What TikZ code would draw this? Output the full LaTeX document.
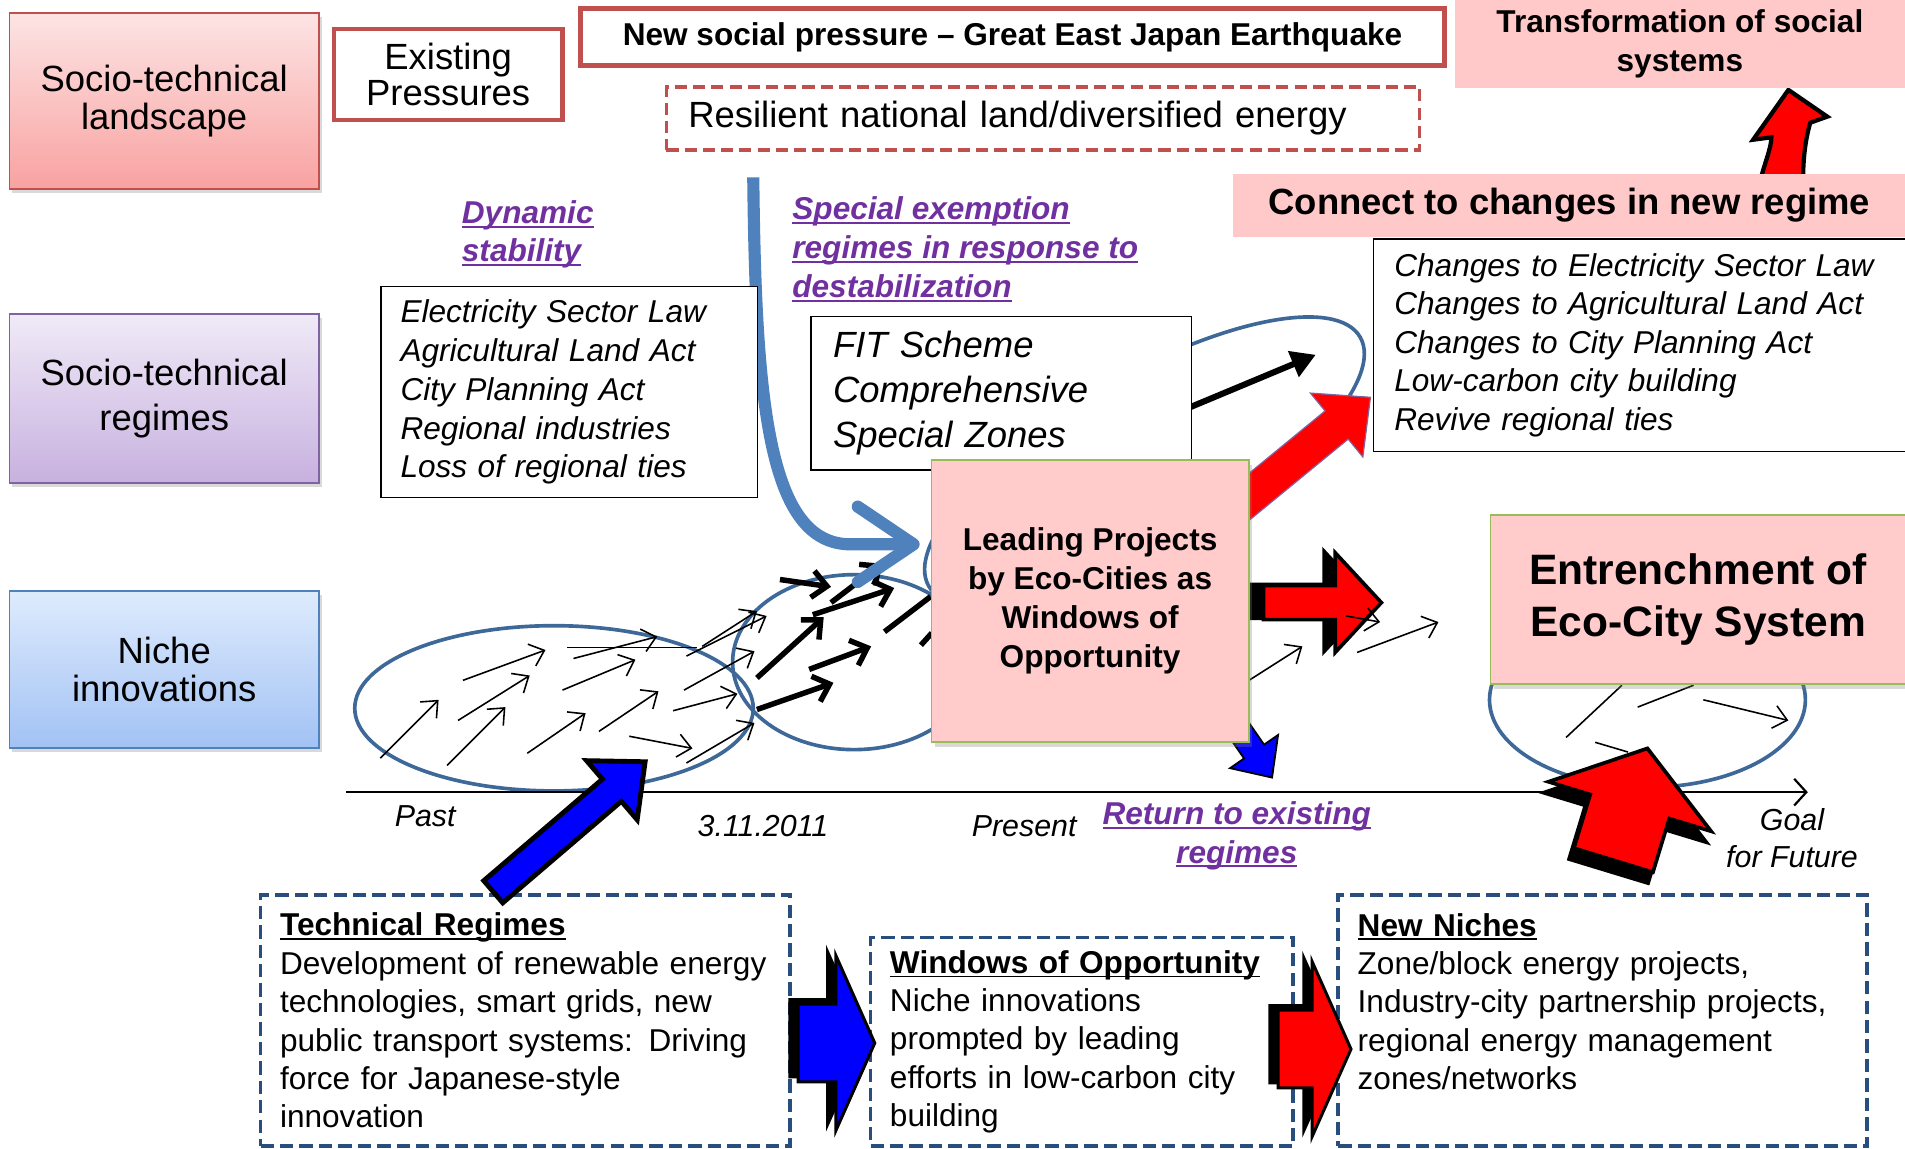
\documentclass[tikz,border=0pt]{standalone}
\usepackage{fontspec}
\setmainfont{Liberation Sans}
\usetikzlibrary{calc, shadows, arrows.meta}

\definecolor{borderred}{HTML}{C0504D}
\definecolor{pinkfill}{HTML}{FFC9C9}
\definecolor{ecopink}{HTML}{FFCBCB}
\definecolor{notepurple}{HTML}{7030A0}
\definecolor{ovalblue}{HTML}{3D6898}
\definecolor{bendblue}{HTML}{4F81BD}
\definecolor{dashblue}{HTML}{284E80}
\definecolor{leafgreen}{HTML}{9BBB59}
\definecolor{lsTop}{HTML}{FDE4E4}
\definecolor{lsBot}{HTML}{F8A2A1}
\definecolor{rgTop}{HTML}{F0EAF7}
\definecolor{rgBot}{HTML}{C7B1DF}
\definecolor{rgBorder}{HTML}{8064A2}
\definecolor{nhTop}{HTML}{DEEBFD}
\definecolor{nhBot}{HTML}{A2C2F4}
\definecolor{nhBorder}{HTML}{4F81BD}

\newsavebox\undlbox
\newcommand{\undl}[1]{\sbox\undlbox{#1}\rlap{\rule[-3.5pt]{\wd\undlbox}{1.6pt}}\usebox\undlbox}

% block arrow: style, tail, tip, half body, half head, head length
\newcommand{\fatarrow}[6]{
	\coordinate (fahead) at ($(#3)!#6pt!(#2)$);
	\path[#1] ($(#2)!#4pt!90:(#3)$) -- ($(fahead)!#4pt!-90:(#2)$)
		-- ($(fahead)!#5pt!-90:(#2)$) -- (#3) -- ($(fahead)!#5pt!90:(#2)$)
		-- ($(fahead)!#4pt!90:(#2)$) -- ($(#2)!#4pt!-90:(#3)$) -- cycle;
}

\begin{document}
\begin{tikzpicture}[x=1pt, y=-1pt]
		\tikzstyle{levelbox}=[draw, line width=1.3pt, minimum width=255pt, align=center, anchor=north west, font=\fontsize{30}{31}\selectfont, drop shadow={shadow xshift=2pt, shadow yshift=-3pt, opacity=0.3}]
		\tikzstyle{pressure}=[draw=borderred, line width=3.8pt, fill=white, anchor=north west, align=center]
		\tikzstyle{pinkbanner}=[fill=pinkfill, anchor=north west, align=center]
		\tikzstyle{listbox}=[draw, line width=1.3pt, fill=white, anchor=north west, align=left, font=\itshape\fontsize{26}{31.7}\selectfont]
		\tikzstyle{purplenote}=[text=notepurple, inner sep=0pt, align=left, font=\bfseries\itshape\fontsize{26}{31.5}\selectfont]
		\tikzstyle{eco}=[draw=leafgreen, line width=1.5pt, fill=ecopink, anchor=north west, align=center, drop shadow={shadow xshift=3pt, shadow yshift=-4pt, opacity=0.3}]
		\tikzstyle{dashbox}=[draw=dashblue, line width=3pt, dash pattern=on 11pt off 5pt, fill=white, anchor=north west, align=left, inner xsep=16pt, font=\fontsize{26}{31.6}\selectfont]
		\tikzstyle{timelabel}=[align=center, font=\itshape\fontsize{25}{31}\selectfont]
		\tikzstyle{nicheoval}=[draw=ovalblue, line width=3pt]
		\tikzstyle{thindrift}=[line width=1.3pt, -{Straight Barb[length=11pt, width=19pt]}]
		\tikzstyle{thickpush}=[line width=4.5pt, -{Straight Barb[length=12pt, width=22pt]}]

		\useasboundingbox (0,0) rectangle (1568,945);

		% ovals
		\draw[nicheoval] (456,583) ellipse [x radius=164, y radius=68];
		\draw[nicheoval] (703,545) ellipse [x radius=100, y radius=72];
		\draw[nicheoval] (942,380) ellipse [x radius=205, y radius=70, rotate=30];
		\draw[nicheoval] (1356,576) ellipse [x radius=130, y radius=72];

		% time line
		\coordinate (tpast) at (285,652);
		\coordinate (tgoal) at (1488,652);
		\draw[line width=1.8pt, -{Straight Barb[length=10pt, width=22pt]}] (tpast) -- (tgoal);

		% small arrows
		\foreach \x/\y/\u/\v in {313/624/361/576, 368/630/416/582, 377/593/436/556, 381/560/449/535, 434/620/482/587, 463/568/523/543, 472/542/541/524, 493/602/542/569, 518/606/570/616, 554/585/607/571, 563/568/621/536, 565/540/631/507, 578/532/623/503, 565/628/621/595, 1028/560/1072/532, 1117/537/1184/512, 1402/576/1472/593}
			\draw[thindrift] (\x,\y) -- (\u,\v);
		\foreach \x/\y/\u/\v in {467/533/574/533, 1289/607/1335/564, 1348/582/1394/564, 1313/611/1340/619}
			\draw[line width=1.3pt] (\x,\y) -- (\u,\v);
		\foreach \x/\y/\u/\v in {623/584/686/562, 666/551/717/532, 623/558/678/508, 669/506/736/484, 642/477/684/483, 684/496/726/464}
			\draw[thickpush] (\x,\y) -- (\u,\v);
		\draw[line width=4.5pt] (728,520) -- (766,491);
		\draw[line width=4.5pt] (758,531) -- (767,521);

		% pressure bending down into the niche
		\coordinate (bendtop) at (620,146);
		\coordinate (bendtip) at (757,448);
		\draw[bendblue, line width=10pt, -{Straight Barb[length=46pt, width=62pt, round]}] (bendtop) .. controls (622,330) and (632,448) .. (700,448) -- (bendtip);

		% arrows out of the leading projects
		\coordinate (fitout) at (980,335);
		\coordinate (fitaim) at (1083,292);
		\draw[line width=5pt, -{Triangle[length=20pt, width=22pt]}] (fitout) -- (fitaim);

		\coordinate (rdtail) at (1000,432);
		\coordinate (rdtip) at (1128,327);
		\fatarrow{fill=red, draw=rgBorder, line width=1pt}{rdtail}{rdtip}{15}{34}{36}

		\coordinate (bdtail) at (1000,572);
		\coordinate (bdtip) at (1047,640);
		\fatarrow{fill=blue, draw=black, line width=1.5pt}{bdtail}{bdtip}{10}{24}{26}

		\coordinate (rrshade) at (1010,496);
		\coordinate (rrtail) at (1040,496);
		\coordinate (rrtip) at (1137,496);
		\begin{scope}[transform canvas={xshift=-9pt, yshift=1pt}]
			\fatarrow{fill=black, draw=black, line width=3pt}{rrshade}{rrtip}{14}{41}{38}
		\end{scope}
		\fatarrow{fill=red, draw=black, line width=3pt}{rrtail}{rrtip}{14}{41}{38}
		\draw[thindrift] (1108,507) -- (1136,512);

		% up to the transformation
		\filldraw[fill=red, draw=black, line width=3.5pt] (1448,152) .. controls (1452,135) and (1458,122) .. (1458,113) -- (1443,115) -- (1472,74) -- (1504,96) -- (1490,101) .. controls (1486,115) and (1484,130) .. (1484,152) -- cycle;

		% levels
		\node[levelbox, top color=lsTop, bottom color=lsBot, draw=borderred, minimum height=145pt] (landscape) at (7,10) {Socio-technical\\landscape};
		\node[levelbox, top color=rgTop, bottom color=rgBot, draw=rgBorder, minimum height=139pt, font=\fontsize{30}{37}\selectfont] (regimes) at (7,258) {Socio-technical\\regimes};
		\node[levelbox, top color=nhTop, bottom color=nhBot, draw=nhBorder, minimum height=129pt] (niche) at (7,486) {Niche\\innovations};

		% landscape pressures
		\node[pressure, minimum width=188pt, minimum height=75pt, font=\fontsize{30}{30}\selectfont] (existing) at (273,22) {Existing\\Pressures};
		\node[pressure, minimum width=711pt, minimum height=47pt, font=\bfseries\fontsize{26}{30}\selectfont] (quake) at (476,5) {New social pressure – Great East Japan Earthquake};
		\node[pressure, line width=3pt, dash pattern=on 10pt off 5pt, minimum height=52pt, text width=584pt, inner xsep=18pt, align=left, font=\fontsize{30}{30}\selectfont] (resilient) at (547,70) {Resilient national land/diversified energy};
		\node[pinkbanner, minimum width=371pt, minimum height=72pt, font=\bfseries\fontsize{26}{32}\selectfont] (transf) at (1197,0) {Transformation of social\\systems};
		\node[pinkbanner, minimum width=553pt, minimum height=52pt, font=\bfseries\fontsize{30}{32}\selectfont] (connect) at (1015,143) {Connect to changes in new regime};

		% regimes
		\node[listbox, minimum height=175pt, text width=404pt, inner xsep=17pt] (changes) at (1130,196) {Changes to Electricity Sector Law\\Changes to Agricultural Land Act\\Changes to City Planning Act\\Low-carbon city building\\Revive regional ties};
		\node[purplenote, anchor=west] (dynamic) at (380,193) {\undl{Dynamic}\\\undl{stability}};
		\node[listbox, minimum height=174pt, text width=278pt, inner xsep=16pt, font=\itshape\fontsize{26}{32}\selectfont] (oldregime) at (313,235) {Electricity Sector Law\\Agricultural Land Act\\City Planning Act\\Regional industries\\Loss of regional ties};
		\node[purplenote, anchor=west, font=\bfseries\itshape\fontsize{26}{32}\selectfont] (exemption) at (652,205) {\undl{Special exemption}\\\undl{regimes in response to}\\\undl{destabilization}};
		\node[listbox, minimum height=126pt, text width=277pt, inner xsep=18pt, font=\itshape\fontsize{30}{37}\selectfont] (fit) at (667,260) {FIT Scheme\\Comprehensive\\Special Zones};

		% eco-city boxes
		\node[eco, minimum width=261pt, minimum height=232pt, font=\bfseries\fontsize{26}{32}\selectfont] (leading) at (766,378) {Leading Projects\\by Eco-Cities as\\Windows of\\Opportunity};
		\node[eco, minimum width=342pt, minimum height=139pt, font=\bfseries\fontsize{35}{43}\selectfont] (entrench) at (1226,423) {Entrenchment of\\Eco-City System};

		% time labels
		\node[timelabel] (past) at (350,672) {Past};
		\node[timelabel] (date) at (628,680) {3.11.2011};
		\node[timelabel] (present) at (843,680) {Present};
		\node[timelabel] (goal) at (1475,690) {Goal\\for Future};
		\node[purplenote, align=center] (returnold) at (1018,688) {\undl{Return to existing}\\\undl{regimes}};

		% bottom boxes
		\node[dashbox, minimum height=207pt, text width=404pt] (techreg) at (213,735) {\textbf{\undl{Technical Regimes}}\\Development of renewable energy\\technologies, smart grids, new\\public transport systems: Driving\\force for Japanese-style\\innovation};
		\node[dashbox, minimum height=172pt, text width=316pt] (windows) at (715,770) {\textbf{\undl{Windows of Opportunity}}\\Niche innovations\\prompted by leading\\efforts in low-carbon city\\building};
		\node[dashbox, minimum height=207pt, text width=403pt] (newniche) at (1100,735) {\textbf{\undl{New Niches}}\\Zone/block energy projects,\\Industry-city partnership projects,\\regional energy management\\zones/networks\\\mbox{}};

		% block arrows
		\coordinate (tbtail) at ($(techreg.north west)+(193,-1)$);
		\coordinate (tbtip) at (531,627);
		\fatarrow{fill=blue, draw=black, line width=4pt}{tbtail}{tbtip}{12}{32}{36}

		\coordinate (batail) at ($(techreg.east)+(5,18.5)$);
		\coordinate (batip) at ($(windows.west)+(5,1)$);
		\begin{scope}[transform canvas={xshift=-7pt, yshift=4pt}]
			\fatarrow{fill=black, draw=black, line width=2pt}{batail}{batip}{32}{72}{32}
		\end{scope}
		\fatarrow{fill=blue, draw=black, line width=2.5pt}{batail}{batip}{32}{72}{32}

		\coordinate (rbtail) at ($(windows.east)+(-14,6)$);
		\coordinate (rbtip) at ($(newniche.west)+(12,23.5)$);
		\begin{scope}[transform canvas={xshift=-7pt, yshift=4pt}]
			\fatarrow{fill=black, draw=black, line width=2pt}{rbtail}{rbtip}{32}{72}{32}
		\end{scope}
		\fatarrow{fill=red, draw=black, line width=2.5pt}{rbtail}{rbtip}{32}{72}{32}

		\coordinate (rutail) at (1328,708);
		\coordinate (rutip) at (1356,616);
		\begin{scope}[transform canvas={xshift=-4pt, yshift=-9pt}]
			\fatarrow{fill=black, draw=black, line width=3pt}{rutail}{rutip}{34}{70}{50}
		\end{scope}
		\fatarrow{fill=red, draw=black, line width=3pt}{rutail}{rutip}{34}{70}{50}

	\end{tikzpicture}
\end{document}
